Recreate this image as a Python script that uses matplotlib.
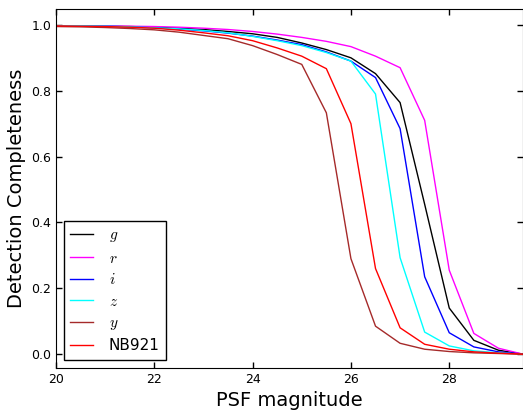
import numpy as np
import matplotlib.pyplot as plt

# PSF magnitude bins
mag = np.arange(20.0, 30.0, 0.5)

# detection completeness per band
comp_g = [0.997, 0.997, 0.996, 0.995, 0.993, 0.990, 0.986, 0.980, 0.973, 0.962,
          0.945, 0.925, 0.900, 0.852, 0.764, 0.455, 0.140, 0.042, 0.012, 0.000]
comp_r = [0.997, 0.997, 0.997, 0.996, 0.995, 0.993, 0.990, 0.986, 0.980, 0.972,
          0.962, 0.950, 0.934, 0.905, 0.870, 0.710, 0.255, 0.063, 0.018, 0.000]
comp_i = [0.997, 0.997, 0.996, 0.994, 0.991, 0.987, 0.982, 0.975, 0.966, 0.954,
          0.940, 0.918, 0.890, 0.840, 0.685, 0.235, 0.065, 0.022, 0.007, 0.000]
comp_z = [0.997, 0.997, 0.996, 0.994, 0.991, 0.988, 0.983, 0.976, 0.965, 0.952,
          0.937, 0.916, 0.890, 0.790, 0.293, 0.067, 0.025, 0.010, 0.004, 0.000]
comp_y = [0.995, 0.994, 0.992, 0.989, 0.985, 0.978, 0.968, 0.958, 0.937, 0.910,
          0.880, 0.733, 0.290, 0.085, 0.033, 0.015, 0.008, 0.004, 0.002, 0.000]
comp_nb = [0.997, 0.996, 0.995, 0.993, 0.990, 0.984, 0.976, 0.967, 0.952, 0.930,
           0.905, 0.867, 0.700, 0.260, 0.080, 0.030, 0.015, 0.007, 0.003, 0.000]

labels = ['$g$', '$r$', '$i$', '$z$', '$y$', 'NB921']
colors = ['black', 'magenta', 'blue', 'cyan', 'brown', 'red']

plt.rcParams['mathtext.fontset'] = 'cm'

fig = plt.figure(figsize=(5.23, 4.13), dpi=100)
ax = fig.add_axes([0.107, 0.109, 0.893, 0.869])

for vals, lab, col in zip([comp_g, comp_r, comp_i, comp_z, comp_y, comp_nb], labels, colors):
    ax.plot(mag, vals, color=col, lw=1.0, label=lab)

ax.set_xlim(20, 29.5)
ax.set_ylim(-0.042, 1.048)
ax.set_xticks([20, 22, 24, 26, 28])
ax.set_yticks([0.0, 0.2, 0.4, 0.6, 0.8, 1.0])
ax.tick_params(direction='in', top=True, right=True, labelsize=9, length=4, width=1)
ax.set_xlabel('PSF magnitude', fontsize=14)
ax.set_ylabel('Detection Completeness', fontsize=14)

leg = ax.legend(loc='lower left', fontsize=11, fancybox=False, framealpha=1,
                edgecolor='black', handlelength=1.5, borderaxespad=0.5,
                labelspacing=0.42, handletextpad=1.0, borderpad=0.45)
leg.get_frame().set_linewidth(1.0)

fig.savefig('out.png', dpi=100)
